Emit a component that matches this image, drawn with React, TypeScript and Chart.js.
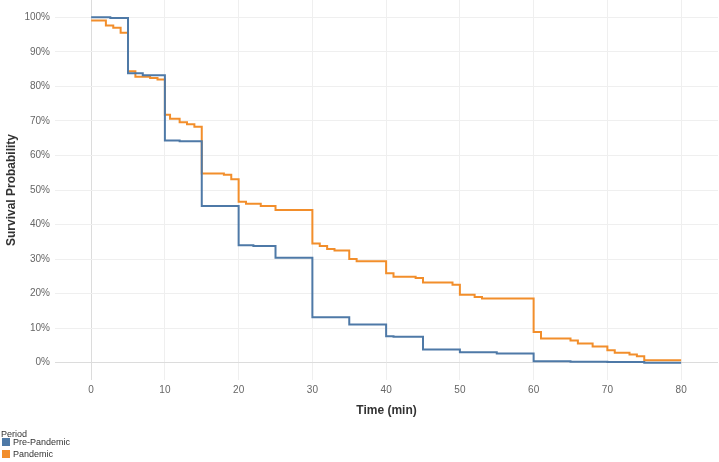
import React, { useEffect, useRef } from "react";
import { Chart, registerables } from "chart.js";

Chart.register(...registerables);

// Kaplan-Meier step data (time in minutes, survival probability)
const preTimes = [0, 2.6, 5, 7, 10, 12, 15, 20, 22, 25, 30, 35, 40, 41, 45, 50, 55, 60, 65, 70, 75, 80];
const preSurv = [1.0, 0.998, 0.838, 0.832, 0.643, 0.641, 0.454, 0.34, 0.338, 0.304, 0.132, 0.111, 0.077, 0.075, 0.038, 0.03, 0.027, 0.004, 0.003, 0.002, 0.0, 0.0];

const panTimes = [0, 2, 3, 4, 5, 6, 8, 9, 10, 10.7, 12, 13, 14, 15, 18, 19, 20, 21, 23, 25, 30, 31, 32, 33, 35, 36, 40, 41, 44, 45, 49, 50, 52, 53, 60, 61, 65, 66, 68, 70, 71, 73, 74, 75, 80];
const panSurv = [0.991, 0.976, 0.97, 0.955, 0.844, 0.828, 0.824, 0.82, 0.718, 0.706, 0.696, 0.69, 0.683, 0.548, 0.544, 0.531, 0.466, 0.46, 0.454, 0.442, 0.345, 0.338, 0.329, 0.325, 0.3, 0.294, 0.259, 0.249, 0.245, 0.232, 0.226, 0.197, 0.19, 0.186, 0.089, 0.07, 0.064, 0.056, 0.047, 0.036, 0.029, 0.024, 0.019, 0.007, 0.007];

const seriesNames = ["Pre-Pandemic", "Pandemic"];
const seriesColors = ["#4E79A7", "#F28E2B"];

const xTicks = [0, 10, 20, 30, 40, 50, 60, 70, 80];
const yTicks = [0, 0.1, 0.2, 0.3, 0.4, 0.5, 0.6, 0.7, 0.8, 0.9, 1.0];

const FONT = "'Liberation Sans', Arial, Helvetica, sans-serif";

export default function App() {
  const canvasRef = useRef<HTMLCanvasElement | null>(null);

  useEffect(() => {
    if (!canvasRef.current) return;
    const toPts = (t: number[], s: number[]) => t.map((x, i) => ({ x, y: s[i] }));
    const gridColor = (ctx: any) => (ctx.tick && ctx.tick.value === 0 ? "#dcdcdc" : "#efefef");
    const chart = new Chart(canvasRef.current, {
      type: "line",
      data: {
        datasets: [
          {
            label: seriesNames[0],
            data: toPts(preTimes, preSurv),
            borderColor: seriesColors[0],
            backgroundColor: seriesColors[0],
            borderWidth: 2,
            pointRadius: 0,
            stepped: true,
            fill: false,
          },
          {
            label: seriesNames[1],
            data: toPts(panTimes, panSurv),
            borderColor: seriesColors[1],
            backgroundColor: seriesColors[1],
            borderWidth: 2,
            pointRadius: 0,
            stepped: true,
            fill: false,
          },
        ],
      },
      options: {
        responsive: false,
        animation: false,
        layout: { padding: { left: 0, right: 1, top: 0, bottom: 44 } },
        plugins: { legend: { display: false }, tooltip: { enabled: false } },
        scales: {
          x: {
            type: "linear",
            min: -4.9,
            max: 85,
            afterBuildTicks: (scale: any) => {
              scale.ticks = xTicks.map((v) => ({ value: v }));
            },
            afterFit: (scale: any) => {
              scale.height = 38;
              scale.paddingLeft = 0;
              scale.paddingRight = 0;
            },
            grid: { color: gridColor, drawTicks: false, lineWidth: 1 },
            border: { display: false },
            ticks: {
              color: "#666",
              font: { family: FONT, size: 10 },
              padding: 4,
              maxRotation: 0,
              callback: (v: any) => String(v),
            },
            title: {
              display: true,
              text: "Time (min)",
              color: "#333",
              font: { family: FONT, size: 12, weight: "bold" },
              padding: { top: 0, bottom: 0 },
            },
          },
          y: {
            type: "linear",
            min: -0.05,
            max: 1.05,
            afterBuildTicks: (scale: any) => {
              scale.ticks = yTicks.map((v) => ({ value: v }));
            },
            afterFit: (scale: any) => {
              scale.width = 55;
              scale.paddingTop = 0;
              scale.paddingBottom = 0;
            },
            grid: { color: gridColor, drawTicks: false, lineWidth: 1 },
            border: { display: false },
            ticks: {
              color: "#666",
              font: { family: FONT, size: 10 },
              padding: 5,
              callback: (v: any) => Math.round(Number(v) * 100) + "%",
            },
            title: {
              display: true,
              text: "Survival Probability",
              color: "#333",
              font: { family: FONT, size: 12, weight: "bold" },
              padding: { top: 4, bottom: 0 },
            },
          },
        },
      },
    });
    return () => chart.destroy();
  }, []);

  return (
    <div style={{ position: "absolute", left: 0, top: 0, width: 719, height: 462, background: "#fff" }}>
      <canvas ref={canvasRef} width={719} height={462} style={{ display: "block" }} />
      <div
        style={{
          position: "absolute",
          left: 1,
          top: 429,
          fontFamily: FONT,
          fontSize: 9,
          color: "#333",
          lineHeight: "10px",
        }}
      >
        Period
      </div>
      {seriesNames.map((name, i) => (
        <div
          key={name}
          style={{
            position: "absolute",
            left: 2,
            top: 436 + i * 12,
            height: 12,
            display: "flex",
            alignItems: "center",
            fontFamily: FONT,
            fontSize: 9,
            color: "#333",
            whiteSpace: "nowrap",
          }}
        >
          <span style={{ display: "inline-block", width: 8, height: 8, background: seriesColors[i], marginRight: 3 }} />
          {name}
        </div>
      ))}
    </div>
  );
}
